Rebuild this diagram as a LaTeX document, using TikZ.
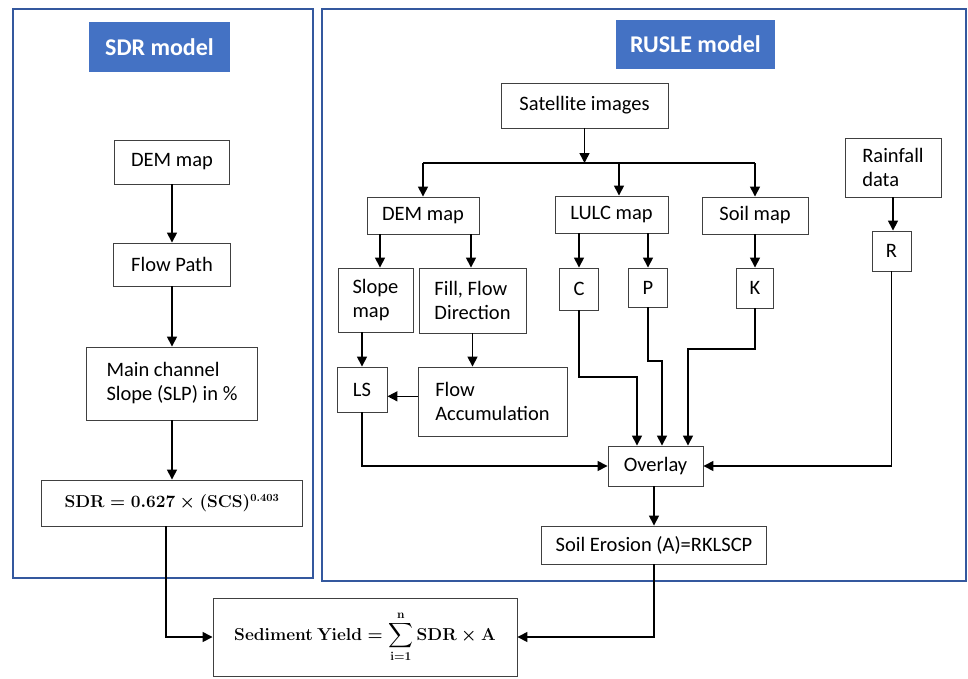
\documentclass[tikz,border=0pt]{standalone}
\usepackage{amsmath}
\usepackage{fontspec}
\setmainfont{Carlito}
\usetikzlibrary{arrows.meta,calc}
\definecolor{frameblue}{RGB}{52,88,158}
\definecolor{titleblue}{RGB}{68,114,196}
\definecolor{boxgray}{RGB}{64,64,64}
\newcommand{\sdrformula}{{\boldmath$\mathbf{SDR}=\mathbf{0.627}\times(\mathbf{SCS})^{\mathbf{0.403}}$}}
\newcommand{\sedformula}{{\boldmath$\displaystyle\mathbf{Sediment\ Yield}=\sum_{\mathbf{i=1}}^{\mathbf{n}}\mathbf{SDR}\times\mathbf{A}$}}
\begin{document}
\begin{tikzpicture}[x=1pt,y=-1pt,
  box/.style={draw=boxgray, line width=0.9pt, inner sep=2pt, align=left,
    font=\fontsize{20.5}{24}\selectfont},
  mathbox/.style={draw=boxgray, line width=0.9pt, inner sep=2pt},
  arr/.style={line width=1.5pt, -{Triangle[length=10pt,width=10pt]}},
  ln/.style={line width=1.5pt},
  frame/.style={draw=frameblue, line width=2.2pt, inner sep=0pt},
  titlebox/.style={fill=titleblue, text=white, inner sep=0pt,
    font=\fontsize{24}{28}\selectfont\bfseries}]
\useasboundingbox (0,0) rectangle (968,678);

% frames
\node[frame, minimum width=300, minimum height=569] (sdrframe) at (163,293.5) {};
\node[frame, minimum width=644, minimum height=572] (rusleframe) at (644,295) {};
\node[titlebox, minimum width=141, minimum height=50] (sdrtitle) at (159.5,47) {SDR model};
\node[titlebox, minimum width=159, minimum height=49] (rusletitle) at (695.5,44.5) {RUSLE model};

% SDR column
\node[box, minimum width=115, minimum height=44] (dem1) at (172,162) {DEM map};
\node[box, minimum width=117, minimum height=43] (flowpath) at (172,264.5) {Flow Path};
\node[box, minimum width=171, minimum height=73] (mainch) at (172,383.5) {Main channel\\Slope (SLP) in \%};
\node[mathbox, minimum width=261, minimum height=46, font=\fontsize{16}{20}\selectfont] (sdr) at (172,503) {\sdrformula};

% RUSLE column
\node[box, minimum width=167, minimum height=45] (sat) at (584.5,105.5) {Satellite images};
\node[box, minimum width=112, minimum height=37] (dem2) at (423,215.5) {DEM map};
\node[box, minimum width=113, minimum height=37] (lulc) at (611.5,214.5) {LULC map};
\node[box, minimum width=106, minimum height=37] (soil) at (755,215.5) {Soil map};
\node[box, minimum width=96, minimum height=59] (rain) at (893,167.5) {Rainfall\\data};
\node[box, minimum width=39, minimum height=40] (r) at (891.5,251) {R};
\node[box, minimum width=37, minimum height=40] (k) at (755,288) {K};
\node[box, minimum width=39, minimum height=39] (p) at (648,287.5) {P};
\node[box, minimum width=39, minimum height=42] (c) at (579,289) {C};
\node[box, minimum width=75, minimum height=64] (slope) at (375.5,300) {Slope\\map};
\node[box, minimum width=107, minimum height=65] (fill) at (472.5,300.5) {Fill, Flow\\Direction};
\node[box, minimum width=50, minimum height=45] (ls) at (362,389.5) {LS};
\node[box, minimum width=149, minimum height=69] (flowacc) at (492.5,401.5) {Flow\\Accumulation};
\node[box, minimum width=95, minimum height=40] (overlay) at (655.5,466) {Overlay};
\node[box, minimum width=225, minimum height=38] (erosion) at (654,545) {Soil Erosion (A)=RKLSCP};

% result
\node[mathbox, minimum width=304, minimum height=78, font=\fontsize{18}{22}\selectfont] (sed) at (365,637) {\sedformula};

% helper coordinates
\coordinate (jn) at (584.5,163);
\coordinate (jl) at (619,163);
\coordinate (cb) at (637,377);
\coordinate (pb) at (662,361);
\coordinate (kb) at (688,349);
\coordinate (sl) at (380,234);
\coordinate (fl) at (471,234);

% SDR arrows
\draw[arr] (dem1.south) -- (flowpath.north);
\draw[arr] (flowpath.south) -- (mainch.north);
\draw[arr] (mainch.south) -- (sdr.north);
\draw[arr] ([xshift=-6pt]sdr.south) |- (sed.west);

% RUSLE arrows
\draw[arr] (sat.south) -- (jn);
\draw[ln] (dem2.north |- jn) -- (soil.north |- jn);
\draw[arr] (dem2.north |- jn) -- (dem2.north);
\draw[arr] (jl) -- (jl |- lulc.north);
\draw[arr] (soil.north |- jn) -- (soil.north);
\draw[arr] (rain.south) -- (rain.south |- r.north);

\draw[arr] (c.north |- lulc.south) -- (c.north);
\draw[arr] (p.north |- lulc.south) -- (p.north);
\draw[arr] (k.north |- soil.south) -- (k.north);
\draw[arr] (sl) -- (sl |- slope.north);
\draw[arr] (fl) -- (fl |- fill.north);
\draw[arr] (ls.north |- slope.south) -- (ls.north);
\draw[arr] (fill.south) -- (fill.south |- flowacc.north);
\draw[arr] (flowacc.west |- ls.-15) -- (ls.-15);

\draw[arr] (ls.south) |- (overlay.west);
\draw[arr] (c.south) |- (cb) -- (cb |- overlay.north);
\draw[arr] (p.south) |- (pb) -- (pb |- overlay.north);
\draw[arr] (k.south) |- (kb) -- (kb |- overlay.north);
\draw[arr] (r.south) |- (overlay.east);
\draw[arr] (overlay.south -| erosion.north) -- (erosion.north);
\draw[arr] (erosion.south) |- (sed.east);
\end{tikzpicture}
\end{document}
